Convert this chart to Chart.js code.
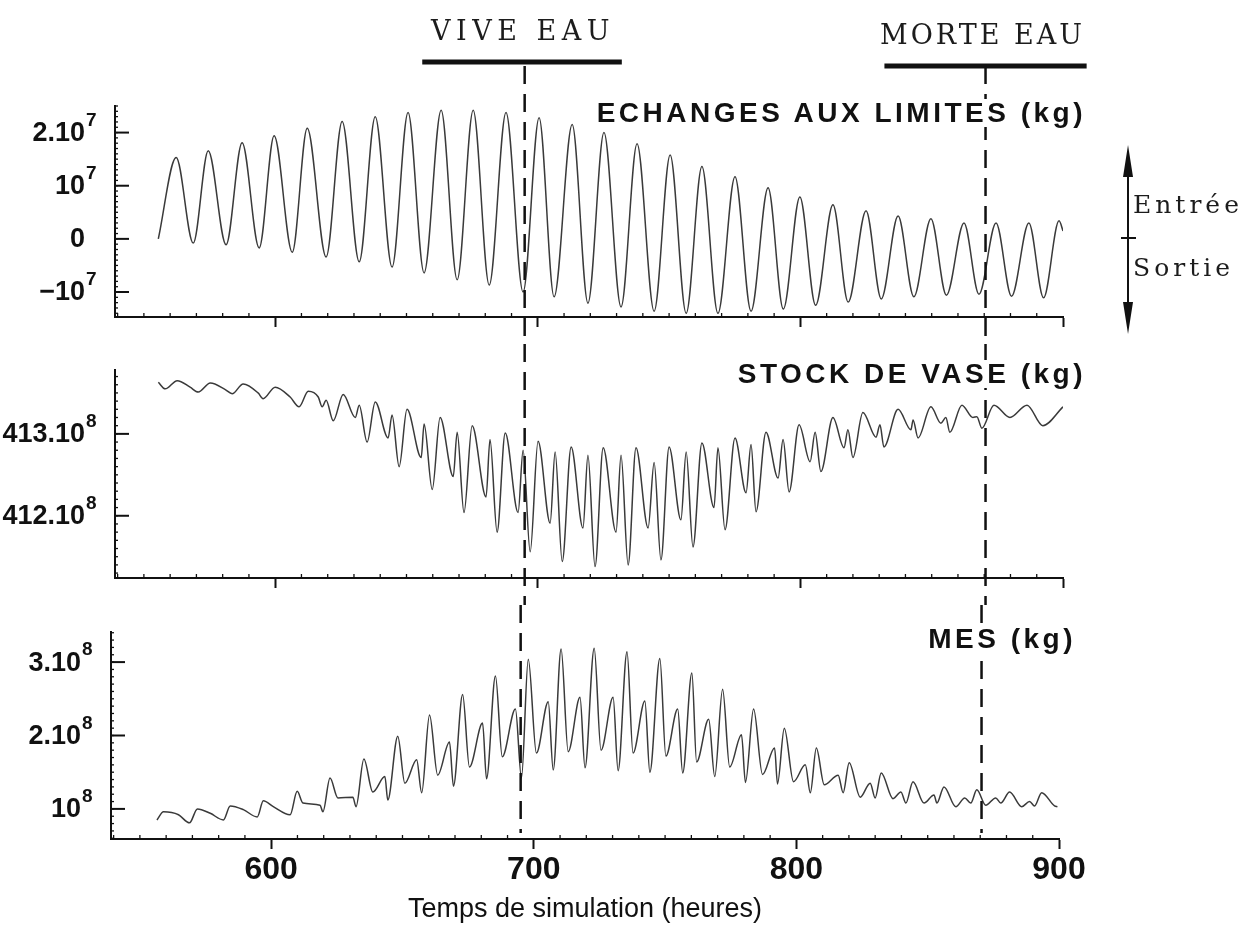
<!DOCTYPE html>
<html>
<head>
<meta charset="utf-8">
<script src="https://cdn.jsdelivr.net/npm/chart.js@4.4.1/dist/chart.umd.min.js"></script>
<style>
  html, body { margin: 0; padding: 0; background: #fff; }
  body { width: 1246px; height: 932px; position: relative; overflow: hidden; }
  canvas { position: absolute; }
  .serif { position: absolute; font-family: "DejaVu Serif", serif; color: #1c1c1c; white-space: nowrap; }
  .panel-title { position: absolute; font-family: "Liberation Sans", Arial, sans-serif; font-weight: bold; font-size: 28px;
    line-height: 28px; letter-spacing: 3.5px; color: #111; background: #fff; white-space: nowrap; }
</style>
</head>
<body>
<canvas id="echanges-chart" width="1246" height="344" style="left:0;top:0"></canvas>
<canvas id="stock-chart" width="1246" height="261" style="left:0;top:344px"></canvas>
<canvas id="mes-chart" width="1246" height="327" style="left:-4px;top:605px"></canvas>

<div class="serif" style="left:431px;top:17px;font-size:27px;line-height:27px;letter-spacing:5.5px">VIVE EAU</div>
<div class="serif" style="left:880px;top:21px;font-size:27px;line-height:27px;letter-spacing:3px">MORTE EAU</div>

<div class="panel-title" style="right:160px;top:99px">ECHANGES AUX LIMITES (kg)</div>
<div class="panel-title" style="right:160px;top:360px">STOCK DE VASE (kg)</div>
<div class="panel-title" style="right:170px;top:625px">MES (kg)</div>

<svg style="position:absolute;left:1110px;top:140px" width="40" height="200">
  <line x1="18" y1="30" x2="18" y2="170" stroke="#111" stroke-width="2"/>
  <polygon points="18,5 13,37 23,37" fill="#111"/>
  <polygon points="18,194 13,162 23,162" fill="#111"/>
  <line x1="11" y1="98" x2="26" y2="98" stroke="#111" stroke-width="2"/>
</svg>
<div class="serif" style="left:1133px;top:192px;font-size:25px;line-height:25px;letter-spacing:4px">Entrée</div>
<div class="serif" style="left:1133px;top:255px;font-size:25px;line-height:25px;letter-spacing:4px">Sortie</div>

<script>
// hours of simulation and values
const echangesHours = [555.5, 562.3, 568.8, 574.5, 581.3, 587.4, 593.9, 599.6, 606.5, 612.2,
    619.4, 625.5, 632.0, 638.1, 644.5, 650.6, 656.7, 663.2, 669.3, 675.4,
    681.5, 687.9, 694.4, 700.5, 706.2, 713.1, 719.1, 725.2, 731.7, 737.8,
    744.3, 750.4, 756.5, 762.5, 768.6, 775.1, 781.2, 787.7, 793.5, 799.8,
    805.8, 812.4, 818.2, 825.0, 830.8, 837.2, 843.2, 849.7, 855.6, 862.3,
    868.0, 874.5, 880.4, 887.0, 892.6, 898.5, 900];
// 10^7 kg (positive = entrée)
const echangesValues = [0.0, 1.53, -0.08, 1.66, -0.11, 1.81, -0.17, 1.94, -0.25, 2.08,
    -0.34, 2.21, -0.43, 2.30, -0.53, 2.38, -0.64, 2.42, -0.77, 2.42,
    -0.87, 2.38, -1.0, 2.28, -1.09, 2.15, -1.21, 2.0, -1.28, 1.79,
    -1.36, 1.58, -1.40, 1.36, -1.40, 1.17, -1.36, 0.96, -1.32, 0.79,
    -1.25, 0.64, -1.19, 0.53, -1.13, 0.43, -1.09, 0.38, -1.06, 0.30,
    -1.04, 0.30, -1.08, 0.30, -1.11, 0.34, 0.15];

const stockHours = [555.5, 558.1, 562.7, 567.6, 570.7, 575.3, 581.0, 583.6, 587.8, 593.5,
    595.4, 600.0, 605.7, 609.1, 612.6, 616.4, 617.9, 619.4, 622.1, 625.9,
    630.5, 632.0, 635.0, 638.1, 643.0, 644.5, 647.2, 650.2, 655.6, 656.7,
    659.8, 662.8, 667.8, 669.3, 671.9, 675.0, 680.3, 681.8, 684.5, 687.6,
    692.5, 694.4, 697.1, 700.1, 704.7, 706.6, 709.3, 712.7, 717.2, 719.1,
    721.8, 724.9, 729.8, 731.7, 734.4, 737.4, 742.0, 744.3, 746.9, 750.0,
    754.5, 756.5, 759.1, 762.5, 767.1, 768.6, 771.3, 775.1, 779.3, 781.2,
    783.1, 786.9, 791.5, 793.4, 795.7, 799.5, 803.7, 805.6, 807.8, 812.4,
    816.6, 818.1, 820.0, 823.8, 828.8, 830.3, 831.8, 837.2, 842.1, 842.9,
    844.8, 849.7, 853.5, 855.4, 856.9, 861.5, 865.7, 867.2, 869.1, 873.7,
    879.8, 886.3, 892.3, 900.0];
// 10^8 kg
const stockValues = [413.63, 413.55, 413.65, 413.57, 413.51, 413.62, 413.54, 413.49, 413.61, 413.50,
    413.43, 413.57, 413.45, 413.33, 413.52, 413.45, 413.33, 413.41, 413.16, 413.48,
    413.20, 413.35, 412.90, 413.39, 412.95, 413.23, 412.60, 413.30, 412.71, 413.12,
    412.32, 413.20, 412.48, 413.02, 412.04, 413.10, 412.23, 412.93, 411.80, 413.01,
    412.04, 412.80, 411.56, 412.91, 411.91, 412.78, 411.44, 412.84, 411.85, 412.74,
    411.38, 412.83, 411.80, 412.74, 411.40, 412.83, 411.85, 412.65, 411.46, 412.84,
    411.95, 412.78, 411.62, 412.89, 412.10, 412.83, 411.83, 412.95, 412.28, 412.87,
    412.05, 413.02, 412.46, 412.93, 412.29, 413.11, 412.66, 413.02, 412.54, 413.20,
    412.83, 413.05, 412.71, 413.26, 412.96, 413.11, 412.84, 413.30, 413.05, 413.17,
    412.95, 413.33, 413.13, 413.20, 413.02, 413.35, 413.20, 413.21, 413.07, 413.35,
    413.20, 413.35, 413.10, 413.33];

const mesHours = [556.5, 559.0, 564.7, 568.9, 571.9, 576.8, 581.8, 584.4, 589.4, 594.7,
    597.0, 600.8, 607.2, 609.9, 612.1, 618.6, 619.7, 622.4, 625.4, 631.1,
    632.3, 635.3, 638.7, 643.3, 644.4, 648.2, 650.9, 655.4, 657.3, 660.3,
    663.4, 667.9, 669.4, 672.9, 675.5, 680.5, 682.0, 685.4, 688.0, 693.0,
    695.3, 697.9, 701.0, 705.5, 707.4, 710.4, 713.1, 717.6, 719.5, 723.0,
    725.6, 730.2, 732.1, 735.5, 737.8, 742.3, 744.2, 748.0, 750.3, 754.8,
    756.7, 760.2, 762.0, 766.6, 768.9, 771.9, 774.6, 779.1, 780.6, 783.7,
    787.1, 791.7, 792.8, 795.4, 798.9, 803.4, 805.3, 807.6, 810.6, 815.9,
    817.8, 820.1, 824.3, 828.1, 830.0, 832.3, 836.8, 839.8, 841.7, 844.4,
    848.6, 852.4, 853.5, 856.2, 860.7, 864.1, 866.4, 868.7, 872.1, 875.9,
    877.8, 881.2, 885.8, 888.8, 890.7, 893.4, 898.3, 899.4];
// 10^8 kg
const mesValues = [0.85, 0.96, 0.92, 0.81, 1.00, 0.94, 0.85, 1.04, 0.99, 0.89,
    1.11, 1.03, 0.92, 1.24, 1.08, 1.05, 0.96, 1.42, 1.15, 1.16,
    1.03, 1.68, 1.23, 1.44, 1.12, 1.99, 1.35, 1.67, 1.22, 2.28,
    1.46, 1.91, 1.31, 2.56, 1.57, 2.17, 1.41, 2.81, 1.71, 2.36,
    1.42, 3.04, 1.76, 2.46, 1.53, 3.18, 1.78, 2.52, 1.56, 3.19,
    1.80, 2.52, 1.52, 3.14, 1.76, 2.47, 1.50, 3.05, 1.72, 2.36,
    1.49, 2.85, 1.64, 2.22, 1.44, 2.63, 1.57, 2.01, 1.36, 2.36,
    1.47, 1.83, 1.34, 2.10, 1.37, 1.60, 1.22, 1.83, 1.33, 1.46,
    1.22, 1.63, 1.16, 1.35, 1.15, 1.49, 1.14, 1.23, 1.08, 1.37,
    1.08, 1.19, 1.08, 1.30, 1.03, 1.15, 1.08, 1.26, 1.05, 1.15,
    1.08, 1.23, 1.03, 1.10, 1.04, 1.22, 1.04, 1.03];

const xTicks = [600, 700, 800, 900];
const markerHours = [695, 870.5];         // vive eau / morte eau
const tideBarHours = [[656, 732], [832, 909]];

const echangesTicks = [2, 1, 0, -1];
const echangesLabels = [["2.10", "7"], ["10", "7"], ["0", ""], ["\u221210", "7"]];
const stockTicks = [413, 412];
const stockLabels = [["413.10", "8"], ["412.10", "8"]];
const mesTicks = [3, 2, 1];
const mesLabels = [["3.10", "8"], ["2.10", "8"], ["10", "8"]];

const ink = "#111";
const sans = "'Liberation Sans', Arial, sans-serif";

function paperAxes(cfg) {
    return {
        id: "paperAxes",
        afterDraw(chart) {
            const { ctx, chartArea: a, scales: { x, y } } = chart;
            ctx.save();
            ctx.strokeStyle = ink;
            ctx.fillStyle = ink;

            // minor ticks on both axes
            ctx.lineWidth = 1.3;
            for (let h = 540; h <= 900; h += 10) {
                if (xTicks.includes(h)) continue;
                const px = x.getPixelForValue(h);
                ctx.beginPath(); ctx.moveTo(px, a.bottom); ctx.lineTo(px, a.bottom - 4); ctx.stroke();
            }
            const lo = Math.ceil(y.min * 10), hi = Math.floor(y.max * 10);
            for (let k = lo; k <= hi; k++) {
                const py = y.getPixelForValue(k / 10);
                ctx.beginPath(); ctx.moveTo(a.left, py); ctx.lineTo(a.left + 3, py); ctx.stroke();
            }

            // major y ticks (inward) and labels with exponents
            ctx.lineWidth = 2;
            cfg.ticks.forEach((v, i) => {
                const py = y.getPixelForValue(v);
                ctx.beginPath(); ctx.moveTo(a.left, py); ctx.lineTo(a.left + 14, py); ctx.stroke();
                const [base, sup] = cfg.labels[i];
                ctx.textBaseline = "middle";
                ctx.font = "bold 27px " + sans;
                ctx.textAlign = "right";
                ctx.fillText(base, a.left - 30, py + 1);
                if (sup) {
                    ctx.font = "bold 19px " + sans;
                    ctx.textAlign = "left";
                    ctx.fillText(sup, a.left - 29, py - 12);
                }
            });

            // tide bars above the top panel
            if (cfg.bars) {
                ctx.lineWidth = 5;
                tideBarHours.forEach(([h0, h1], i) => {
                    const yy = cfg.barY[i];
                    ctx.beginPath();
                    ctx.moveTo(x.getPixelForValue(h0), yy);
                    ctx.lineTo(x.getPixelForValue(h1), yy);
                    ctx.stroke();
                });
            }

            // dashed vertical markers
            ctx.lineWidth = 2.5;
            ctx.setLineDash([18, 10]);
            const bottom = cfg.markBottom != null ? cfg.markBottom : chart.height;
            markerHours.forEach(h => {
                const px = x.getPixelForValue(h);
                ctx.beginPath(); ctx.moveTo(px, cfg.markTop); ctx.lineTo(px, bottom); ctx.stroke();
            });
            ctx.restore();
        }
    };
}

function makePanel(id, hours, values, yMin, yMax, padTop, xHeight, axisCfg, showX) {
    return new Chart(document.getElementById(id), {
        type: "line",
        data: {
            datasets: [{
                data: hours.map((h, i) => ({ x: h, y: values[i] })),
                borderColor: "#3a3a3a",
                borderWidth: 1.5,
                pointRadius: 0,
                cubicInterpolationMode: "monotone",
                fill: false
            }]
        },
        options: {
            responsive: false,
            animation: false,
            layout: { padding: { top: padTop, right: 183, left: 0, bottom: 0 } },
            plugins: { legend: { display: false }, tooltip: { enabled: false } },
            scales: {
                x: {
                    type: "linear",
                    min: 539,
                    max: 900,
                    afterBuildTicks: s => { s.ticks = xTicks.map(v => ({ value: v })); },
                    afterFit: s => { s.height = xHeight; },
                    grid: { display: true, drawOnChartArea: false, drawTicks: true, tickLength: 10, tickColor: ink, tickWidth: 2 },
                    border: { display: true, color: ink, width: 2 },
                    ticks: {
                        display: showX,
                        autoSkip: false,
                        maxRotation: 0,
                        padding: 2,
                        color: ink,
                        font: { family: sans, weight: "bold", size: 32 }
                    },
                    title: {
                        display: showX,
                        text: "Temps de simulation (heures)",
                        color: ink,
                        font: { family: sans, size: 27 },
                        padding: { top: 0, bottom: 6 }
                    }
                },
                y: {
                    min: yMin,
                    max: yMax,
                    afterFit: s => { s.width = 115; },
                    grid: { display: false, drawTicks: false },
                    border: { display: true, color: ink, width: 2 },
                    ticks: { display: false }
                }
            }
        },
        plugins: [paperAxes(axisCfg)]
    });
}

makePanel("echanges-chart", echangesHours, echangesValues, -1.47, 2.5, 106, 27,
    { ticks: echangesTicks, labels: echangesLabels, markTop: 66, bars: true, barY: [62, 66] }, false);
makePanel("stock-chart", stockHours, stockValues, 411.24, 413.78, 26, 27,
    { ticks: stockTicks, labels: stockLabels, markTop: 0 }, false);
makePanel("mes-chart", mesHours, mesValues, 0.59, 3.41, 27, 93,
    { ticks: mesTicks, labels: mesLabels, markTop: 0, markBottom: 228 }, true);
</script>
</body>
</html>
